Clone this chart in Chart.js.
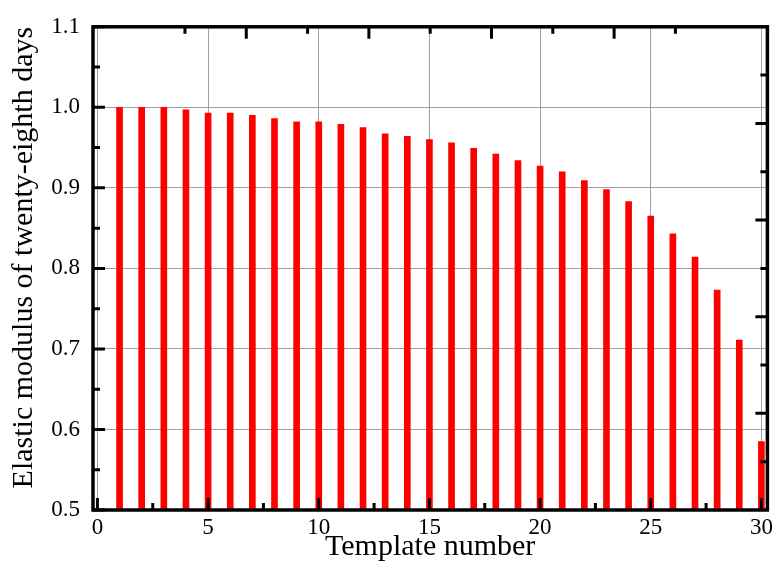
<!DOCTYPE html>
<html>
<head>
<meta charset="utf-8">
<script src="https://cdn.jsdelivr.net/npm/chart.js@4"></script>
<style>
    html, body { margin: 0; padding: 0; background: #fff; }
    #wrap { width: 777px; height: 572px; }
</style>
</head>
<body>
<div id="wrap"><canvas id="Modulus_Chart" width="777" height="572"></canvas></div>
<script>
// template numbers and relative elastic modulus at 28 days
const templateNumbers = [1, 2, 3, 4, 5, 6, 7, 8, 9, 10,
    11, 12, 13, 14, 15, 16, 17, 18, 19, 20,
    21, 22, 23, 24, 25, 26, 27, 28, 29, 30];
const modulusValues = [1.000, 1.000, 1.000, 0.997, 0.993, 0.993, 0.990, 0.986, 0.982, 0.982,
    0.979, 0.975, 0.967, 0.964, 0.960, 0.956, 0.949, 0.942, 0.934, 0.927,
    0.920, 0.909, 0.898, 0.883, 0.865, 0.843, 0.814, 0.773, 0.711, 0.585];
const xTicks = [0, 5, 10, 15, 20, 25, 30];
const xMinorTicks = [2.5, 7.5, 12.5, 17.5, 22.5, 27.5];
const yTicks = [0.5, 0.6, 0.7, 0.8, 0.9, 1.0, 1.1];
const yMinorTicks = [0.55, 0.65, 0.75, 0.85, 0.95, 1.05];
// top and right frame carry their own tick spacing
const frameTicks = [1, 2, 3, 4];
const frameMinorTicks = [0.5, 1.5, 2.5, 3.5, 4.5];

const serif = "'Liberation Serif', 'DejaVu Serif', serif";

// ----------------------------
// FRAME + INWARD TICK MARKS
// ----------------------------
const framePlugin = {
    id: 'frame',
    afterDatasetsDraw(chart) {
        const ctx = chart.ctx;
        const a = chart.chartArea;
        const x = chart.scales.x, y = chart.scales.y;
        const x2 = chart.scales.x2, y2 = chart.scales.y2;
        const major = 12, minor = 7;

        ctx.save();
        ctx.strokeStyle = '#000';
        ctx.lineWidth = 3;
        ctx.lineCap = 'butt';

        ctx.beginPath();
        // bottom ticks
        xTicks.forEach(v => { const px = x.getPixelForValue(v); ctx.moveTo(px, a.bottom); ctx.lineTo(px, a.bottom - major); });
        xMinorTicks.forEach(v => { const px = x.getPixelForValue(v); ctx.moveTo(px, a.bottom); ctx.lineTo(px, a.bottom - minor); });
        // left ticks
        yTicks.forEach(v => { const py = y.getPixelForValue(v); ctx.moveTo(a.left, py); ctx.lineTo(a.left + major, py); });
        yMinorTicks.forEach(v => { const py = y.getPixelForValue(v); ctx.moveTo(a.left, py); ctx.lineTo(a.left + minor, py); });
        // top ticks
        frameTicks.forEach(v => { const px = x2.getPixelForValue(v); ctx.moveTo(px, a.top); ctx.lineTo(px, a.top + major); });
        frameMinorTicks.forEach(v => { const px = x2.getPixelForValue(v); ctx.moveTo(px, a.top); ctx.lineTo(px, a.top + minor); });
        // right ticks
        frameTicks.forEach(v => { const py = y2.getPixelForValue(v); ctx.moveTo(a.right, py); ctx.lineTo(a.right - major, py); });
        frameMinorTicks.forEach(v => { const py = y2.getPixelForValue(v); ctx.moveTo(a.right, py); ctx.lineTo(a.right - minor, py); });
        ctx.stroke();

        ctx.lineWidth = 3.5;
        ctx.strokeRect(a.left, a.top, a.right - a.left, a.bottom - a.top);
        ctx.restore();
    }
};

const ctx = document.getElementById('Modulus_Chart').getContext('2d');

new Chart(ctx, {
    type: 'bar',
    data: {
        datasets: [{
            label: 'Elastic modulus',
            data: templateNumbers.map((n, i) => ({ x: n, y: modulusValues[i] })),
            backgroundColor: '#ff0000',
            borderWidth: 0,
            barThickness: 6,
            base: 0.5
        }]
    },
    options: {
        responsive: false,
        animation: false,
        layout: { padding: { top: 21, right: 8, left: 0, bottom: 0 } },
        plugins: {
            legend: { display: false },
            tooltip: { enabled: false }
        },
        scales: {
            x: {
                type: 'linear',
                position: 'bottom',
                offset: false,
                min: -0.2,
                max: 30.27,
                afterBuildTicks: (scale) => { scale.ticks = xTicks.map(v => ({ value: v })); },
                afterFit: (scale) => { scale.height = 62; },
                grid: { color: '#a0a0a0', lineWidth: 1, drawTicks: false, offset: false },
                border: { display: false },
                ticks: {
                    color: '#000',
                    padding: 4,
                    maxRotation: 0,
                    font: { family: serif, size: 23 }
                },
                title: {
                    display: true,
                    text: 'Template number',
                    color: '#000',
                    padding: { top: 0, bottom: 7 },
                    font: { family: serif, size: 30 }
                }
            },
            y: {
                type: 'linear',
                position: 'left',
                min: 0.5,
                max: 1.1,
                afterBuildTicks: (scale) => { scale.ticks = yTicks.map(v => ({ value: v })); },
                afterFit: (scale) => { scale.width = 93; },
                grid: { color: '#a0a0a0', lineWidth: 1, drawTicks: false },
                border: { display: false },
                ticks: {
                    color: '#000',
                    padding: 13,
                    font: { family: serif, size: 23 },
                    callback: (value) => value.toFixed(1)
                },
                title: {
                    display: true,
                    text: 'Elastic modulus of twenty-eighth days',
                    color: '#000',
                    align: 'end',
                    padding: { top: 6, bottom: 0 },
                    font: { family: serif, size: 30 }
                }
            },
            x2: { type: 'linear', position: 'top', min: 0, max: 5, display: false },
            y2: { type: 'linear', position: 'right', min: 0, max: 5, display: false }
        }
    },
    plugins: [framePlugin]
});
</script>
</body>
</html>
